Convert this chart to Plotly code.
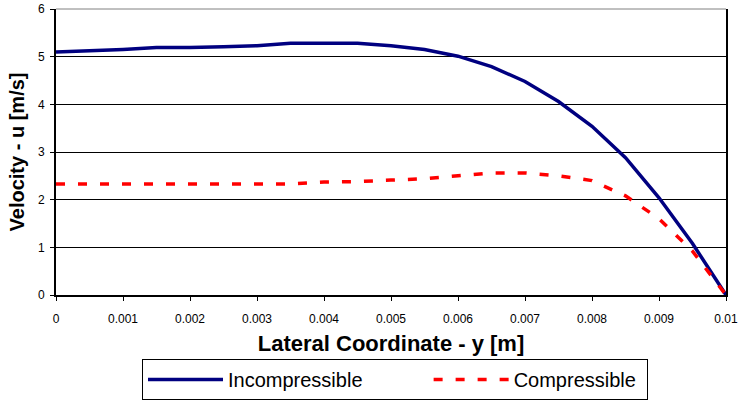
import plotly.graph_objects as go

y_coord = [0.0, 0.0005, 0.001, 0.0015, 0.002, 0.0025, 0.003, 0.0035, 0.004, 0.0045,
           0.005, 0.0055, 0.006, 0.0065, 0.007, 0.0075, 0.008, 0.0085, 0.009, 0.0095, 0.01]
incompressible = [5.10, 5.12, 5.15, 5.19, 5.19, 5.21, 5.23, 5.28, 5.28, 5.28,
                  5.23, 5.15, 5.01, 4.79, 4.48, 4.06, 3.54, 2.88, 2.04, 1.08, 0.0]
compressible = [2.33, 2.33, 2.33, 2.33, 2.33, 2.33, 2.33, 2.33, 2.37, 2.38,
                2.41, 2.44, 2.50, 2.56, 2.56, 2.50, 2.40, 2.08, 1.60, 0.92, 0.0]
x_ticks = [0, 0.001, 0.002, 0.003, 0.004, 0.005, 0.006, 0.007, 0.008, 0.009, 0.01]
x_tick_labels = ["0", "0.001", "0.002", "0.003", "0.004", "0.005", "0.006", "0.007", "0.008", "0.009", "0.01"]
series_names = ["Incompressible", "Compressible"]

ARIAL = "Liberation Sans, Arial, sans-serif"
PAD = "\u00a0" * 11  # spacing between legend entries

W, H = 743, 403

fig = go.Figure()
fig.add_trace(go.Scatter(x=y_coord, y=incompressible, mode="lines", name=series_names[0] + PAD,
                         line=dict(color="#000080", width=3.5)))
fig.add_trace(go.Scatter(x=y_coord, y=compressible, mode="lines", name=series_names[1] + "\u00a0",
                         line=dict(color="#FF0000", width=3.5, dash="9px,13px")))

fig.update_layout(
    width=W, height=H,
    margin=dict(l=56, r=17, t=9, b=108, autoexpand=False),
    paper_bgcolor="white", plot_bgcolor="white",
    font=dict(family=ARIAL, color="black"),
    xaxis=dict(range=[0, 0.01], tickvals=x_ticks, ticktext=x_tick_labels, automargin=False,
               showgrid=False, zeroline=False, showline=True, linecolor="black", linewidth=2,
               ticks="outside", ticklen=4, tickcolor="black", tickwidth=1,
               ticklabelstandoff=8,
               tickfont=dict(family=ARIAL, size=12),
               title=dict(text="Lateral Coordinate - y [m]", standoff=10,
                          font=dict(family=ARIAL, size=22, weight="bold"))),
    yaxis=dict(range=[0, 6], dtick=1, showgrid=True, gridcolor="black", gridwidth=1,
               automargin=False,
               zeroline=False, showline=True, linecolor="black", linewidth=2, mirror=True,
               ticks="outside", ticklen=4, tickcolor="black", tickwidth=1,
               ticklabelstandoff=3,
               tickfont=dict(family=ARIAL, size=12),
               title=dict(text="Velocity - u [m/s]", standoff=8,
                          font=dict(family=ARIAL, size=20, weight="bold"))),
    legend=dict(orientation="h", x=395 / W, xanchor="center", xref="container",
                y=3 / H, yanchor="bottom", yref="container",
                bordercolor="black", borderwidth=1, bgcolor="white",
                font=dict(family=ARIAL, size=20), itemwidth=75),
    showlegend=True,
)
fig.add_shape(type="line", xref="paper", yref="paper", x0=0, x1=1, y0=1, y1=1,
              line=dict(color="#808080", width=1))

fig.write_html("out.html", config={"displayModeBar": False},
               post_script="document.body.style.margin='0';")
